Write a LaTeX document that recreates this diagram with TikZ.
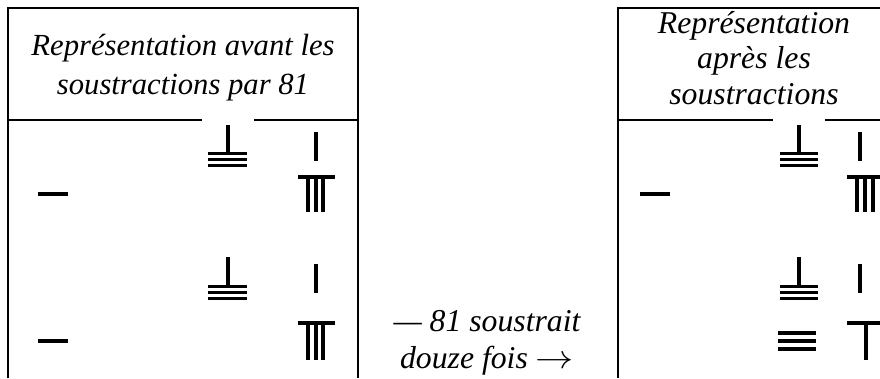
\documentclass[tikz,border=0pt]{standalone}
\usepackage{fontspec}
\setmainfont{Liberation Serif}
\begin{document}
\begin{tikzpicture}[x=0.75pt,y=-0.75pt,
	frame/.style={line width=1.8pt},
	rod/.style={line width=2.3pt},
	caption/.style={align=center,anchor=base,inner sep=0pt}]
		\useasboundingbox (0,0) rectangle (880,378);
		\draw[frame] (8,378) -- (8,8) -- (358,8) -- (358,378);
		\draw[frame] (8,120) -- (358,120);
		\draw[frame] (618,378) -- (618,8) -- (880,8);
		\draw[frame] (618,120) -- (880,120);
		\fill[white] (202,116) rectangle (254,170);
		\fill[white] (773,116) rectangle (825,170);
		\node[caption,font=\fontsize{23}{29.25}\selectfont\itshape] (avant) at (183,94)
			{Représentation avant les\\soustractions par 81};
		\node[caption,font=\fontsize{23.8}{26.6}\selectfont\itshape] (apres) at (754,104)
			{Représentation\\après les\\soustractions};
		\node[caption,font=\fontsize{23.8}{27.75}\selectfont\itshape] (douze) at (487,368)
			{— 81 soustrait\\douze fois \scalebox{1.15}[1]{$\rightarrow$}};
		\draw[rod] (38,194) -- (68,194);
		\draw[rod] (228,125) -- (228,152);
		\foreach \y in {153.5,159.5,165.5} \draw[rod] (208,\y) -- (247,\y);
		\draw[rod] (316,132) -- (316,161);
		\draw[rod] (298,177) -- (335,177);
		\foreach \x in {308,316,323} \draw[rod] (\x,177) -- (\x,212);
		\draw[rod] (38,341) -- (68,341);
		\draw[rod] (228,257) -- (228,285);
		\foreach \y in {286.5,292.5,298.5} \draw[rod] (208,\y) -- (247,\y);
		\draw[rod] (316,264) -- (316,293);
		\draw[rod] (298,323) -- (335,323);
		\foreach \x in {308,316,323} \draw[rod] (\x,323) -- (\x,360);
		\draw[rod] (640,194) -- (670,194);
		\draw[rod] (799,125) -- (799,152);
		\foreach \y in {153.5,159.5,165.5} \draw[rod] (780,\y) -- (818,\y);
		\draw[rod] (860,132) -- (860,161);
		\draw[rod] (847,177) -- (884,177);
		\foreach \x in {857,865,873} \draw[rod] (\x,177) -- (\x,212);
		\draw[rod] (799,257) -- (799,285);
		\foreach \y in {286.5,292.5,298.5} \draw[rod] (780,\y) -- (818,\y);
		\draw[rod] (860,264) -- (860,293);
		\foreach \y in {333,341,349} \draw[rod] (778,\y) -- (816,\y);
		\draw[rod] (847,323) -- (884,323);
		\draw[rod] (866,323) -- (866,360);
  \end{tikzpicture}
\end{document}
